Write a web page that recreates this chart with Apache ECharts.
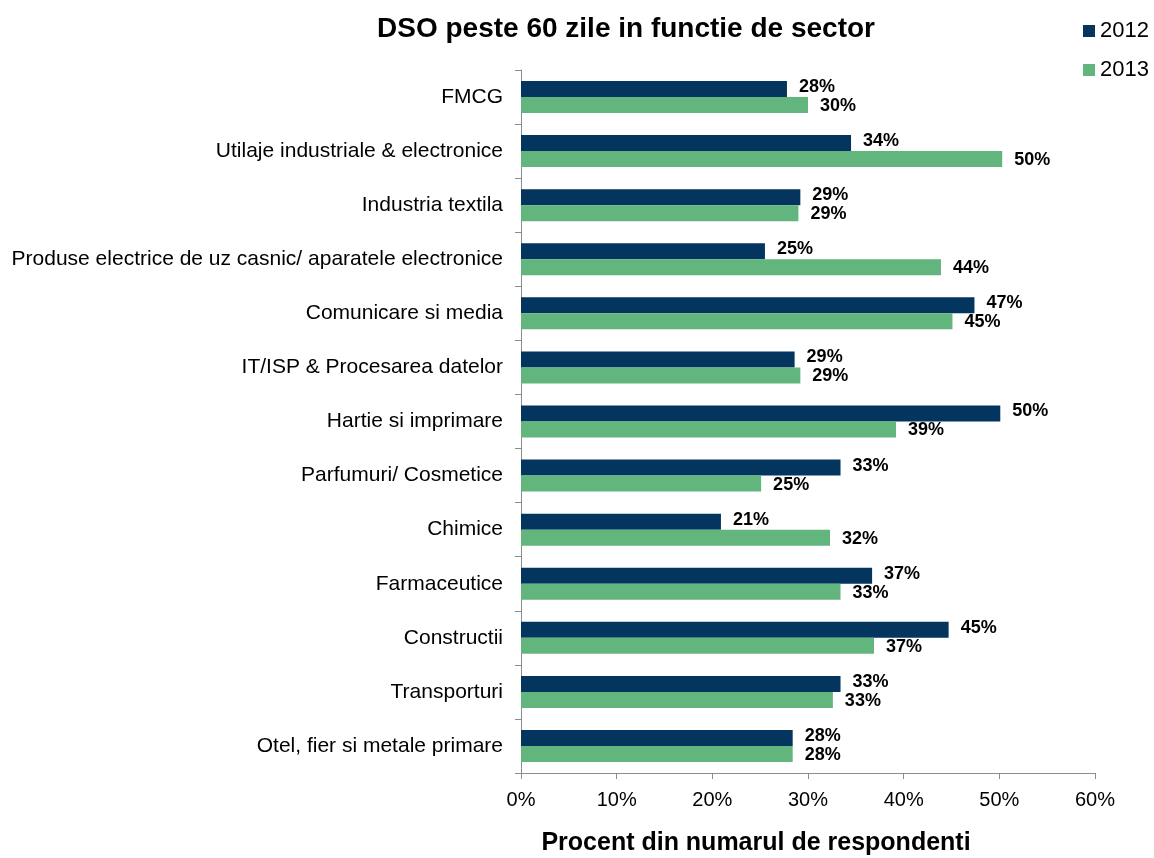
<!DOCTYPE html>
<html>
<head>
<meta charset="utf-8">
<script src="https://cdn.jsdelivr.net/npm/echarts@6/dist/echarts.min.js"></script>
<style>html,body{margin:0;padding:0;background:#fff}#c{width:1154px;height:858px}</style>
</head>
<body>
<div id="c"></div>
<script>
const categories = ["FMCG","Utilaje industriale & electronice","Industria textila","Produse electrice de uz casnic/ aparatele electronice","Comunicare si media","IT/ISP & Procesarea datelor","Hartie si imprimare","Parfumuri/ Cosmetice","Chimice","Farmaceutice","Constructii","Transporturi","Otel, fier si metale primare"];
const values2012 = [27.8,34.5,29.2,25.5,47.4,28.6,50.1,33.4,20.9,36.7,44.7,33.4,28.4];
const values2013 = [30.0,50.3,29.0,43.9,45.1,29.2,39.2,25.1,32.3,33.4,36.9,32.6,28.4];
const labels2012 = ["28%","34%","29%","25%","47%","29%","50%","33%","21%","37%","45%","33%","28%"];
const labels2013 = ["30%","50%","29%","44%","45%","29%","39%","25%","32%","33%","37%","33%","28%"];
const seriesNames = ["2012","2013"];
const xTicks = [0,10,20,30,40,50,60];

const FONT = "'Liberation Sans', Arial, sans-serif";
const chart = echarts.init(document.getElementById('c'));
const lbl = (arr, dy) => ({
  show: true, position: 'right', distance: 12, offset: [0, dy],
  fontFamily: FONT, fontSize: 18, fontWeight: 'bold', color: '#000',
  formatter: p => arr[p.dataIndex]
});
chart.setOption({
  animation: false,
  textStyle: { fontFamily: FONT },
  title: [{
    text: 'DSO peste 60 zile in functie de sector',
    left: 621, top: 10, textAlign: 'center',
    textStyle: { fontFamily: FONT, fontSize: 28, fontWeight: 'bold', color: '#000' }
  }, {
    text: 'Procent din numarul de respondenti',
    left: 751, top: 826, textAlign: 'center',
    textStyle: { fontFamily: FONT, fontSize: 25, fontWeight: 'bold', color: '#000' }
  }],
  legend: {
    orient: 'vertical', left: 1083, top: 20, padding: 0,
    itemWidth: 12, itemHeight: 12, itemGap: 17,
    icon: 'rect',
    textStyle: { fontFamily: FONT, fontSize: 22, color: '#000', padding: [0,0,0,0] },
    data: seriesNames
  },
  grid: { left: 521, right: 59, top: 70, bottom: 85, containLabel: false },
  xAxis: {
    type: 'value', min: 0, max: 60, interval: 10,
    axisLine: { show: true, lineStyle: { color: '#8c8c8c', width: 1 } },
    axisTick: { show: true, length: 6, lineStyle: { color: '#8c8c8c' } },
    splitLine: { show: false },
    axisLabel: { fontFamily: FONT, fontSize: 20, color: '#000', margin: 17,
      formatter: v => xTicks.includes(v) ? v + '%' : '' }
  },
  yAxis: {
    type: 'category', data: categories, inverse: true,
    axisLine: { show: true, lineStyle: { color: '#8c8c8c', width: 1 } },
    axisTick: { show: true, length: 6, lineStyle: { color: '#8c8c8c' } },
    axisLabel: { fontFamily: FONT, fontSize: 21, color: '#000', margin: 18 }
  },
  series: [
    { name: seriesNames[0], type: 'bar', data: values2012, barWidth: 16, barGap: '0%',
      itemStyle: { color: '#03355e' }, label: lbl(labels2012, -2) },
    { name: seriesNames[1], type: 'bar', data: values2013, barWidth: 16, barGap: '0%',
      itemStyle: { color: '#63b57e' }, label: lbl(labels2013, 1) }
  ]
});
</script>
</body>
</html>
